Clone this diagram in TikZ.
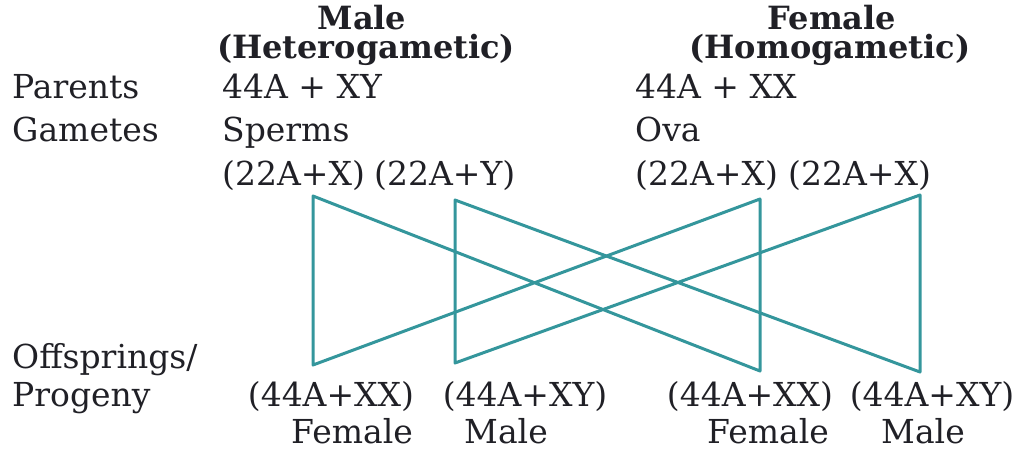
\documentclass[tikz,border=0pt]{standalone}
\usepackage{fontspec}
\setmainfont{DejaVu Serif}
\usetikzlibrary{positioning}
\definecolor{crossteal}{RGB}{52,150,156}
\definecolor{inkgray}{RGB}{32,32,38}

\begin{document}
\begin{tikzpicture}[
    x=1pt, y=-1pt,
    lbl/.style={anchor=base west, inner sep=0pt, font=\fontsize{33}{38}\selectfont, text=inkgray},
    head/.style={anchor=base, inner sep=0pt, font=\fontsize{32}{38}\selectfont\bfseries, text=inkgray},
    kid/.style={anchor=base, inner sep=0pt, font=\fontsize{33}{38}\selectfont, text=inkgray},
    cross/.style={draw=crossteal, line width=3pt, line join=round}
]
    \useasboundingbox (0,0) rectangle (1024,451);

    % Headings
    \node[head] (male) at (362, 29) {Male};
    \node[head] (hetero) at (366, 58) {(Heterogametic)};
    \node[head] (female) at (832, 29) {Female};
    \node[head] (homo) at (830, 58) {(Homogametic)};

    % Row labels
    \node[lbl] (parents) at (12, 98) {Parents};
    \node[lbl] (gametes) at (12, 141) {Gametes};
    \node[lbl] (offspr) at (12, 368) {Offsprings/};
    \node[lbl] (progeny) at (12, 406) {Progeny};

    % Parents and gametes
    \node[lbl] (pmale) at (222, 98) {44A + XY};
    \node[lbl] (pfemale) at (635, 98) {44A + XX};
    \node[lbl] (sperms) at (222, 141) {Sperms};
    \node[lbl] (ova) at (635, 141) {Ova};
    \node[lbl] (spermx) at (222, 185) {(22A+X)};
    \node[lbl] (spermy) at (374, 185) {(22A+Y)};
    \node[lbl] (ovum1) at (635, 185) {(22A+X)};
    \node[lbl] (ovum2) at (788, 185) {(22A+X)};

    % Progeny
    \node[kid] (kid1) at (331, 406) {(44A+XX)};
    \node[kid] (kid2) at (525, 406) {(44A+XY)};
    \node[kid] (kid3) at (750, 406) {(44A+XX)};
    \node[kid] (kid4) at (932, 406) {(44A+XY)};
    \node[kid] (sex1) at (352, 443) {Female};
    \node[kid] (sex2) at (506, 443) {Male};
    \node[kid] (sex3) at (768, 443) {Female};
    \node[kid] (sex4) at (923, 443) {Male};

    % Crossing lines
    \coordinate (sx-top) at (313, 196);
    \coordinate (sx-bot) at (313, 365);
    \coordinate (sy-top) at (455, 200);
    \coordinate (sy-bot) at (455, 363);
    \coordinate (o1-top) at (760, 199);
    \coordinate (o1-bot) at (760, 371);
    \coordinate (o2-top) at (920, 195);
    \coordinate (o2-bot) at (920, 372);

    \draw[cross] (sx-top) -- (sx-bot) -- (o1-top) -- (o1-bot) -- cycle;
    \draw[cross] (sy-top) -- (sy-bot) -- (o2-top) -- (o2-bot) -- cycle;

\end{tikzpicture}
\end{document}
